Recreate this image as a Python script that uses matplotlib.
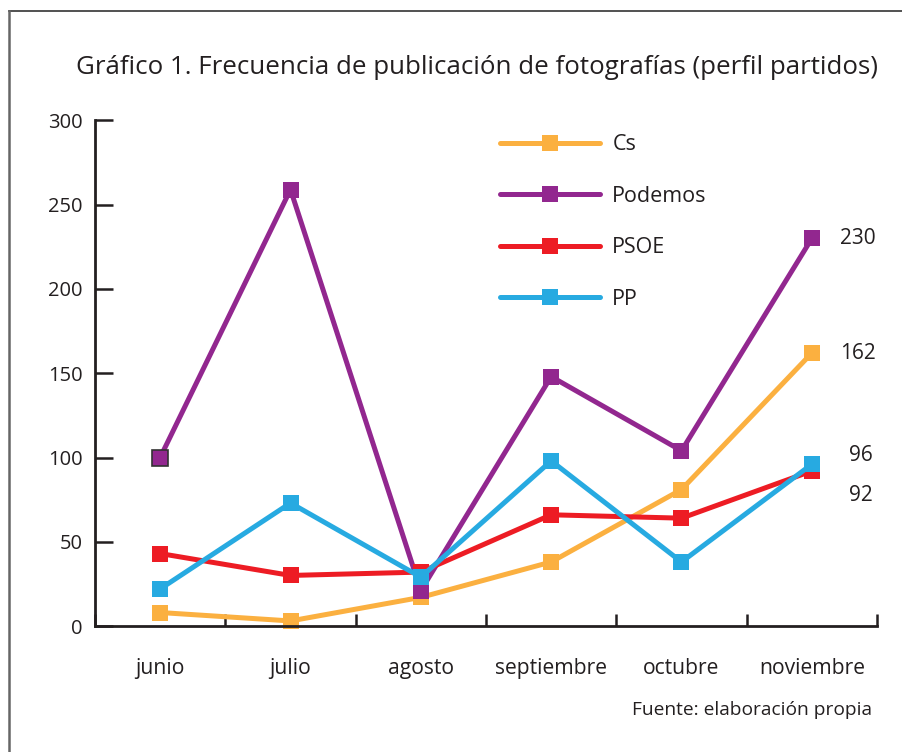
import matplotlib
matplotlib.use("Agg")
import matplotlib.pyplot as plt
from matplotlib.lines import Line2D

plt.rcParams['font.family'] = ['Open Sans', 'DejaVu Sans']

months = ["junio", "julio", "agosto", "septiembre", "octubre", "noviembre"]
series_names = ["Cs", "Podemos", "PSOE", "PP"]
cs = [8, 3, 17, 38, 81, 162]
podemos = [100, 259, 21, 148, 104, 230]
psoe = [43, 30, 32, 66, 64, 92]
pp = [22, 73, 29, 98, 38, 96]
colors = ["#FBB040", "#92278F", "#ED1C24", "#27AAE1"]
end_labels = ["162", "230", "92", "96"]
yticks = [0, 50, 100, 150, 200, 250, 300]

W, H = 902, 752
fig = plt.figure(figsize=(W / 100, H / 100), dpi=100)
ax = fig.add_axes([95 / W, 1 - 626 / H, (877 - 95) / W, (626 - 120.5) / H])

x = list(range(len(months)))
data = [cs, podemos, psoe, pp]
for name, vals, c in zip(series_names, data, colors):
    ax.plot(x, vals, color=c, lw=3.6, marker='s', ms=11.5, mec=c, mew=0,
            solid_capstyle='round', label=name, clip_on=False)

# dark edge on the Podemos junio marker
ax.plot([x[0]], [podemos[0]], ls='none', marker='s', ms=11.5, mfc=colors[1],
        mec='#333333', mew=1.2, zorder=5)

ax.set_xlim(-0.5, len(months) - 0.5)
ax.set_ylim(0, 300)
for s in ['top', 'right']:
    ax.spines[s].set_visible(False)
for s in ['left', 'bottom']:
    ax.spines[s].set_linewidth(2)
    ax.spines[s].set_color('#231F20')

ax.set_yticks(yticks)
ax.set_yticklabels([str(v) for v in yticks])
ax.tick_params(axis='y', direction='in', length=13, width=1.8, color='#231F20',
               labelsize=14.5, pad=9, labelcolor='#231F20')
ax.set_xticks([i - 0.5 for i in range(len(months) + 1)])
ax.set_xticklabels([])
ax.tick_params(axis='x', which='major', direction='in', length=8.5, width=1.8,
               color='#231F20')
ax.set_xticks(x, minor=True)
ax.set_xticklabels(months, minor=True)
ax.tick_params(axis='x', which='minor', length=0, labelsize=15.2, pad=23,
               labelcolor='#231F20')

# end-value annotations
ax.annotate(end_labels[1], (x[-1], podemos[-1]), xytext=(20, 0), textcoords='offset points',
            va='center', ha='left', fontsize=15, color='#231F20')
ax.annotate(end_labels[0], (x[-1], cs[-1]), xytext=(20, 0), textcoords='offset points',
            va='center', ha='left', fontsize=15, color='#231F20')
ax.annotate(end_labels[3], (x[-1], pp[-1]), xytext=(44, 6), textcoords='offset points',
            va='center', ha='right', fontsize=15, color='#231F20')
ax.annotate(end_labels[2], (x[-1], psoe[-1]), xytext=(44, -18), textcoords='offset points',
            va='center', ha='right', fontsize=15, color='#231F20')

leg = ax.legend(loc='upper left', bbox_to_anchor=((491.5 - 95) / (877 - 95), 0.99),
                frameon=False, fontsize=15.5, handlelength=4.65, labelspacing=1.42,
                handletextpad=0.56, borderaxespad=0.0)
for t in leg.get_texts():
    t.set_color('#231F20')

fig.text(477 / W, 1 - 68 / H, "Gráfico 1. Frecuencia de publicación de fotografías (perfil partidos)",
         ha='center', va='center', fontsize=18.6, color='#231F20')
fig.text(872 / W, 1 - 710 / H, "Fuente: elaboración propia", ha='right', va='center',
         fontsize=13.8, color='#231F20')

# frame lines
fig.add_artist(Line2D([9 / W, 1], [1 - 11 / H, 1 - 11 / H], transform=fig.transFigure,
                      color='#333333', lw=1.2))
fig.add_artist(Line2D([9 / W, 9 / W], [1 - 11 / H, 0], transform=fig.transFigure,
                      color='#666666', lw=1.8))

fig.savefig("out.png", dpi=100)
